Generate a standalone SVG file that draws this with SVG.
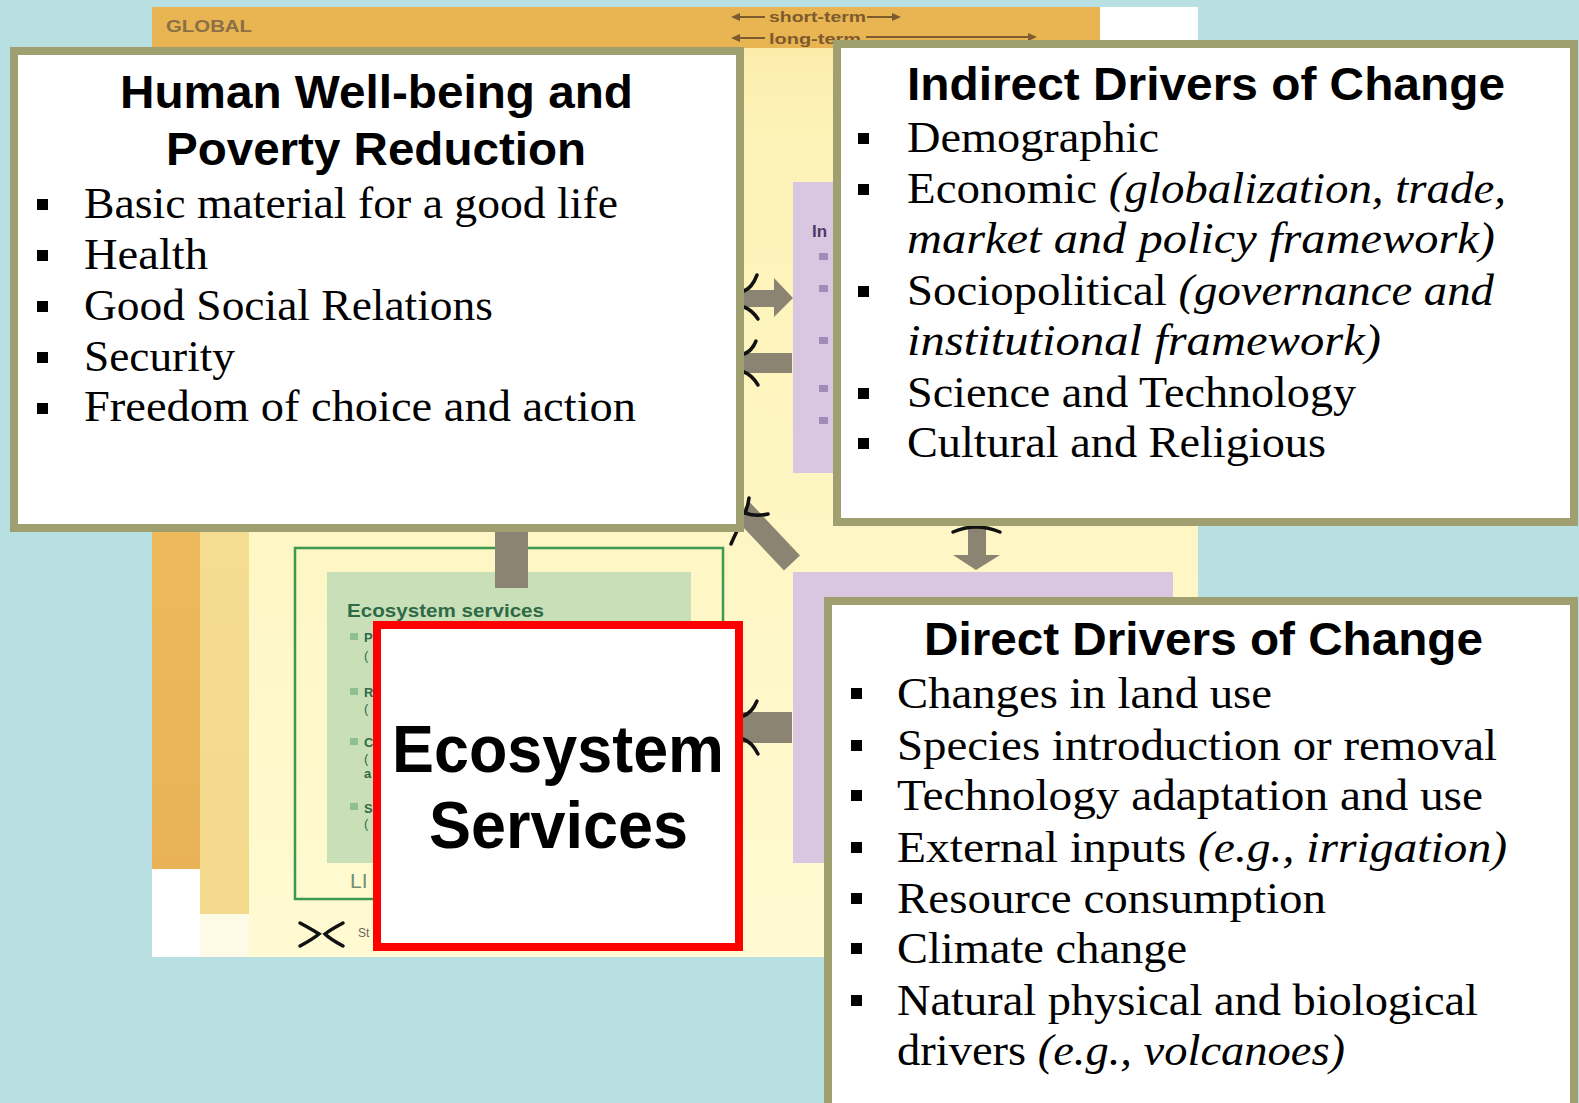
<svg xmlns="http://www.w3.org/2000/svg" width="1579" height="1103" viewBox="0 0 1579 1103">
<defs>
<linearGradient id="yel" x1="0" y1="0" x2="0" y2="1">
<stop offset="0" stop-color="#fbe9a6"/>
<stop offset="0.12" stop-color="#fdf2b6"/>
<stop offset="1" stop-color="#fffad2"/>
</linearGradient>
<linearGradient id="col1" x1="0" y1="0" x2="0" y2="1">
<stop offset="0" stop-color="#f3c462"/>
<stop offset="1" stop-color="#e9b257"/>
</linearGradient>
<linearGradient id="col2" x1="0" y1="0" x2="0" y2="1">
<stop offset="0" stop-color="#f6e096"/>
<stop offset="1" stop-color="#f3d98c"/>
</linearGradient>
<style>
.box{fill:#fff;stroke:#a09f70;stroke-width:8}
.title{font-family:"Liberation Sans",Arial,sans-serif;font-weight:bold;font-size:47px;fill:#000}
.eco{font-family:"Liberation Sans",Arial,sans-serif;font-weight:bold;font-size:66px;fill:#000}
.body{font-family:"Liberation Serif","Times New Roman",serif;font-size:45px;fill:#000}
.it{font-style:italic}
.grey{fill:#8c8472}
.mark{fill:none;stroke:#111;stroke-width:3.5;stroke-linecap:round}
.bul{fill:#000}
.psq{fill:#a08cb6}
.gsq{fill:#8fc08f}
.small{font-family:"Liberation Sans",Arial,sans-serif;font-weight:bold}
</style>
</defs>
<rect x="0" y="0" width="1579" height="1103" fill="#b8dfe2"/>

<g id="background-framework">
<rect x="152" y="7" width="1046" height="950" fill="url(#yel)"/>
<rect x="152" y="7" width="948" height="41" fill="#e9b552"/>
<rect x="1100" y="7" width="98" height="34" fill="#ffffff"/>
<rect x="152" y="48" width="48" height="821" fill="url(#col1)"/>
<rect x="200" y="48" width="49" height="866" fill="url(#col2)"/>
<rect x="152" y="869" width="48" height="88" fill="#ffffff"/>
<rect x="200" y="914" width="49" height="43" fill="#fdfbe6"/>
<text x="166" y="32" class="small" font-size="17" fill="#8b6f45" textLength="86" lengthAdjust="spacingAndGlyphs">GLOBAL</text>
<g stroke="#7d5b2e" stroke-width="2" fill="#7d5b2e">
<line x1="738" y1="17" x2="765" y2="17"/><polygon points="731,17 740,13 740,21" stroke="none"/>
<line x1="867" y1="17" x2="894" y2="17"/><polygon points="901,17 892,13 892,21" stroke="none"/>
<line x1="738" y1="38" x2="765" y2="38"/><polygon points="731,38 740,34 740,42" stroke="none"/>
<line x1="866" y1="37" x2="1030" y2="37"/><polygon points="1037,37 1028,33 1028,41" stroke="none"/>
</g>
<text x="769" y="22" class="small" font-size="15" fill="#7d5b2e" textLength="97" lengthAdjust="spacingAndGlyphs">short-term</text>
<text x="769" y="44" class="small" font-size="15" fill="#7d5b2e" textLength="92" lengthAdjust="spacingAndGlyphs">long-term</text>

<rect x="295" y="548" width="428" height="351" fill="none" stroke="#3c9a50" stroke-width="2.5"/>
<rect x="327" y="572" width="364" height="291" fill="#c9dfb8"/>
<text x="347" y="617" class="small" font-size="18" fill="#2f6a47" textLength="197" lengthAdjust="spacingAndGlyphs">Ecosystem services</text>
<rect class="gsq" x="350" y="633" width="8" height="7"/>
<rect class="gsq" x="350" y="688" width="8" height="7"/>
<rect class="gsq" x="350" y="738" width="8" height="7"/>
<rect class="gsq" x="350" y="803" width="8" height="7"/>
<g class="small" font-size="13" fill="#2f6a47">
<text x="364" y="642">P</text><text x="364" y="660" font-weight="normal">(</text>
<text x="364" y="697">R</text><text x="364" y="713" font-weight="normal">(</text>
<text x="364" y="747">C</text><text x="364" y="763" font-weight="normal">(</text><text x="364" y="778">a</text>
<text x="364" y="813">S</text><text x="364" y="828" font-weight="normal">(</text>
</g>
<text x="350" y="888" font-family="Liberation Sans,Arial,sans-serif" font-size="21" fill="#6e8f74">LI</text>
<text x="358" y="937" font-family="Liberation Sans,Arial,sans-serif" font-size="12" fill="#666">St</text>
<path class="mark" stroke-width="4" d="M300,923 Q313,930 319,934 Q313,939 300,946"/>
<path class="mark" stroke-width="4" d="M343,923 Q330,930 325,934 Q330,939 343,946"/>

<rect x="793" y="182" width="50" height="291" fill="#d9c7e2"/>
<text x="812" y="237" class="small" font-size="17" fill="#4a3a6a">In</text>
<rect class="psq" x="819" y="253" width="9" height="7"/>
<rect class="psq" x="819" y="285" width="9" height="7"/>
<rect class="psq" x="819" y="337" width="9" height="7"/>
<rect class="psq" x="819" y="385" width="9" height="7"/>
<rect class="psq" x="819" y="417" width="9" height="7"/>
<rect x="793" y="572" width="380" height="291" fill="#d9c7e2"/>
</g>

<g id="connectors">
<rect class="grey" x="495" y="530" width="33" height="58"/>
<line x1="742" y1="510" x2="792" y2="563" stroke="#8c8472" stroke-width="22"/>
<rect class="grey" x="742" y="290" width="34" height="17"/>
<polygon class="grey" points="774,278 793,298 774,317"/>
<rect class="grey" x="742" y="353" width="50" height="20"/>
<rect class="grey" x="968" y="524" width="18" height="32"/>
<polygon class="grey" points="953,555 1000,555 976,570"/>
<rect class="grey" x="743" y="712" width="49" height="31"/>
<path class="mark" d="M744,291 Q752,288 757,275"/>
<path class="mark" d="M744,307 Q752,310 758,319"/>
<path class="mark" d="M744,354 Q752,351 756,341"/>
<path class="mark" d="M744,372 Q752,375 758,385"/>
<path class="mark" d="M743,716 Q752,713 757,701"/>
<path class="mark" d="M743,739 Q752,742 758,754"/>
<path class="mark" d="M745,513 Q748,506 749,498"/>
<path class="mark" d="M745,513 Q756,517 768,514"/>
<path class="mark" d="M737,531 Q734,537 731,544"/>
<path class="mark" d="M953,532 Q976,522 1000,532"/>
</g>

<g id="human-wellbeing">
<rect class="box" x="14" y="51" width="726" height="477"/>
<text class="title" x="120" y="108" textLength="513" lengthAdjust="spacingAndGlyphs">Human Well-being and</text>
<text class="title" x="166" y="165" textLength="420" lengthAdjust="spacingAndGlyphs">Poverty Reduction</text>
<rect class="bul" x="37" y="199" width="11" height="11"/>
<rect class="bul" x="37" y="250" width="11" height="11"/>
<rect class="bul" x="37" y="301" width="11" height="11"/>
<rect class="bul" x="37" y="352" width="11" height="11"/>
<rect class="bul" x="37" y="403" width="11" height="11"/>
<text class="body" x="84" y="218" textLength="534" lengthAdjust="spacingAndGlyphs">Basic material for a good life</text>
<text class="body" x="84" y="269" textLength="124" lengthAdjust="spacingAndGlyphs">Health</text>
<text class="body" x="84" y="320" textLength="409" lengthAdjust="spacingAndGlyphs">Good Social Relations</text>
<text class="body" x="84" y="371" textLength="151" lengthAdjust="spacingAndGlyphs">Security</text>
<text class="body" x="84" y="421" textLength="552" lengthAdjust="spacingAndGlyphs">Freedom of choice and action</text>
</g>

<g id="indirect-drivers">
<rect class="box" x="837" y="44" width="737" height="478"/>
<text class="title" x="907" y="100" textLength="598" lengthAdjust="spacingAndGlyphs">Indirect Drivers of Change</text>
<rect class="bul" x="858" y="133" width="11" height="11"/>
<rect class="bul" x="858" y="184" width="11" height="11"/>
<rect class="bul" x="858" y="286" width="11" height="11"/>
<rect class="bul" x="858" y="388" width="11" height="11"/>
<rect class="bul" x="858" y="438" width="11" height="11"/>
<text class="body" x="907" y="152" textLength="252" lengthAdjust="spacingAndGlyphs">Demographic</text>
<text class="body" x="907" y="203" textLength="599" lengthAdjust="spacingAndGlyphs">Economic <tspan class="it">(globalization, trade,</tspan></text>
<text class="body it" x="907" y="253" textLength="588" lengthAdjust="spacingAndGlyphs">market and policy framework)</text>
<text class="body" x="907" y="305" textLength="587" lengthAdjust="spacingAndGlyphs">Sociopolitical <tspan class="it">(governance and</tspan></text>
<text class="body it" x="907" y="355" textLength="474" lengthAdjust="spacingAndGlyphs">institutional framework)</text>
<text class="body" x="907" y="407" textLength="449" lengthAdjust="spacingAndGlyphs">Science and Technology</text>
<text class="body" x="907" y="457" textLength="419" lengthAdjust="spacingAndGlyphs">Cultural and Religious</text>
</g>

<g id="direct-drivers">
<rect class="box" x="828" y="601" width="746" height="530"/>
<text class="title" x="924" y="655" textLength="559" lengthAdjust="spacingAndGlyphs">Direct Drivers of Change</text>
<rect class="bul" x="851" y="688" width="11" height="11"/>
<rect class="bul" x="851" y="740" width="11" height="11"/>
<rect class="bul" x="851" y="790" width="11" height="11"/>
<rect class="bul" x="851" y="842" width="11" height="11"/>
<rect class="bul" x="851" y="893" width="11" height="11"/>
<rect class="bul" x="851" y="943" width="11" height="11"/>
<rect class="bul" x="851" y="995" width="11" height="11"/>
<text class="body" x="897" y="708" textLength="375" lengthAdjust="spacingAndGlyphs">Changes in land use</text>
<text class="body" x="897" y="760" textLength="600" lengthAdjust="spacingAndGlyphs">Species introduction or removal</text>
<text class="body" x="897" y="810" textLength="586" lengthAdjust="spacingAndGlyphs">Technology adaptation and use</text>
<text class="body" x="897" y="862" textLength="610" lengthAdjust="spacingAndGlyphs">External inputs <tspan class="it">(e.g., irrigation)</tspan></text>
<text class="body" x="897" y="913" textLength="429" lengthAdjust="spacingAndGlyphs">Resource consumption</text>
<text class="body" x="897" y="963" textLength="290" lengthAdjust="spacingAndGlyphs">Climate change</text>
<text class="body" x="897" y="1015" textLength="581" lengthAdjust="spacingAndGlyphs">Natural physical and biological</text>
<text class="body" x="897" y="1065" textLength="448" lengthAdjust="spacingAndGlyphs">drivers <tspan class="it">(e.g., volcanoes)</tspan></text>
</g>

<g id="ecosystem-services">
<rect x="377" y="625" width="362" height="322" fill="#fff" stroke="#ff0000" stroke-width="8"/>
<text class="eco" x="392" y="772" textLength="332" lengthAdjust="spacingAndGlyphs">Ecosystem</text>
<text class="eco" x="429" y="848" textLength="259" lengthAdjust="spacingAndGlyphs">Services</text>
</g>
</svg>
